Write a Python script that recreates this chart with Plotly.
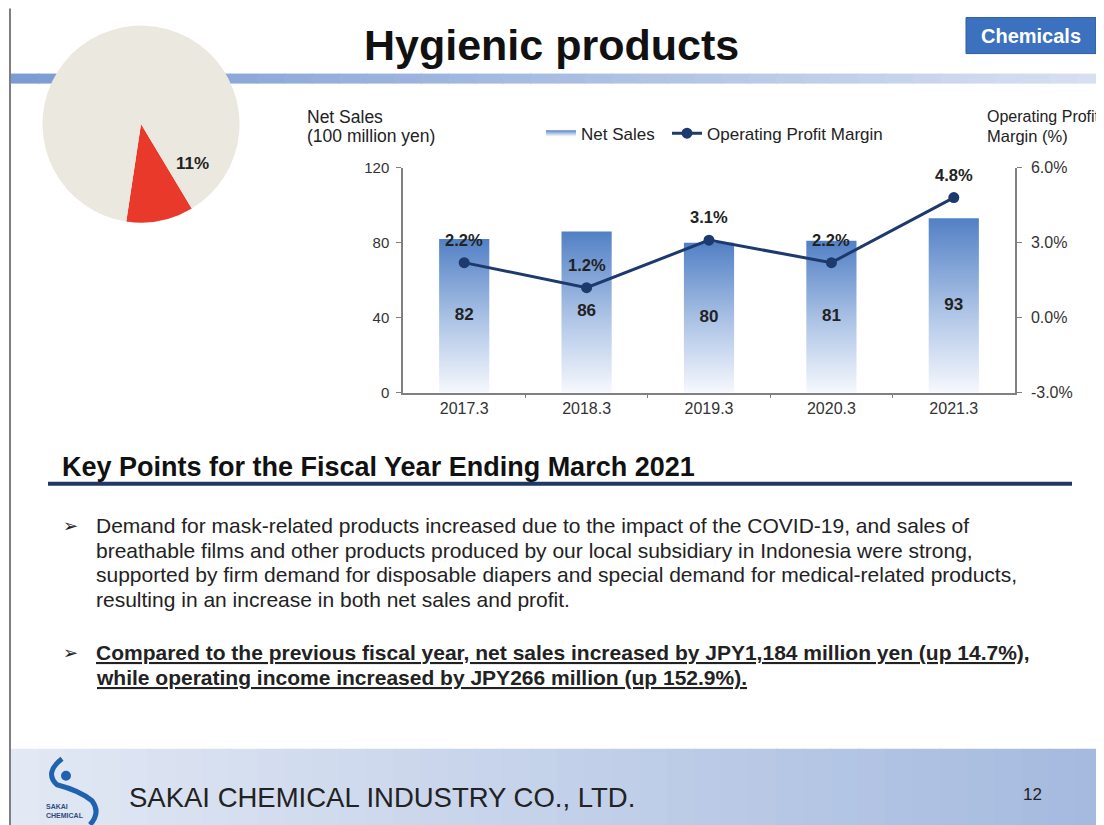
import plotly.graph_objects as go

# ---- data ----
categories = ["2017.3", "2018.3", "2019.3", "2020.3", "2021.3"]
net_sales = [82, 86, 80, 81, 93]
op_margin = [2.2, 1.2, 3.1, 2.2, 4.8]
margin_ticks = [-3.0, 0.0, 3.0, 6.0]
share_labels = ["Hygienic products", "Other"]
share_values = [11, 89]

# measured from earlier renders: figure sits 8px in from the left, ~17px down,
# and the screenshot comes back squeezed vertically by ~0.978
OFFX, OFFY, SY = 8, 16.8, 0.978
W = 1104 - OFFX
H = 827
FONT = "Arial, Liberation Sans, sans-serif"


def px(x):
    return (x - OFFX) / W


def py(y):
    return 1 - (y / SY - OFFY) / H


def blend(c1, c2, t):
    a = [int(c1[i:i + 2], 16) for i in (1, 3, 5)]
    b = [int(c2[i:i + 2], 16) for i in (1, 3, 5)]
    return "#%02x%02x%02x" % tuple(round(a[k] + (b[k] - a[k]) * t) for k in range(3))


def label(x, y, text, size, color="#222222", xanchor="left", family=FONT):
    return dict(x=px(x), y=py(y), xref="paper", yref="paper", text=text, showarrow=False,
                xanchor=xanchor, yanchor="middle", font=dict(size=size, color=color, family=family))


fig = go.Figure()

# pie (share of company sales)
fig.add_trace(go.Pie(
    labels=share_labels, values=share_values, sort=False, direction="clockwise",
    rotation=149, marker=dict(colors=["#e8392a", "#ebe8df"], line=dict(width=0)),
    textinfo="none", hoverinfo="label+percent", showlegend=False,
    domain=dict(x=[px(41), px(241)], y=[py(222), py(25)])
))

# net sales bars drawn as gradient filled polygons on a numeric x axis
half = 0.205
for i, v in enumerate(net_sales):
    fig.add_trace(go.Scatter(
        x=[i - half, i + half, i + half, i - half, i - half],
        y=[0, 0, v, v, 0],
        mode="none", fill="toself",
        fillgradient=dict(type="vertical",
                          colorscale=[[0, "#f6f8fd"], [0.45, "#b0c6e7"], [1, "#5280c5"]]),
        name="Net Sales", legendgroup="ns", showlegend=(i == 0), legend="legend",
        hoverinfo="skip"
    ))

fig.add_trace(go.Scatter(
    x=list(range(len(categories))), y=[v / 2 for v in net_sales],
    mode="text", text=["<b>%d</b>" % v for v in net_sales],
    textfont=dict(size=17, color="#222222", family=FONT),
    showlegend=False, hoverinfo="skip"
))

fig.add_trace(go.Scatter(
    x=list(range(len(categories))), y=op_margin, yaxis="y2",
    mode="lines+markers", name="Operating Profit Margin", legend="legend2",
    line=dict(color="#1c3a6e", width=3),
    marker=dict(color="#1c3a6e", size=11)
))

shapes = []
annotations = []

# margin value labels above the markers
for i, v in enumerate(op_margin):
    annotations.append(dict(x=i, y=v, xref="x", yref="y2", yshift=23, showarrow=False,
                            text="<b>%.1f%%</b>" % v, xanchor="center", yanchor="middle",
                            font=dict(size=16.5, color="#222222", family=FONT)))

# slide frame (left edge)
shapes.append(dict(type="line", xref="paper", yref="paper", x0=px(10), x1=px(10), y0=0, y1=py(8),
                   line=dict(color="#555555", width=1.5), layer="below"))

# top blue band (gradient)
n = 40
for k in range(n):
    x0 = 11 + (1104 - 11) * k / n
    x1 = 11 + (1104 - 11) * (k + 1) / n
    shapes.append(dict(type="rect", xref="paper", yref="paper", x0=px(x0), x1=px(x1) + 0.001,
                       y0=py(83), y1=py(73), fillcolor=blend("#7b9bd2", "#d6e0f1", k / (n - 1)),
                       line=dict(width=0), layer="below"))

# footer band (gradient)
for k in range(n):
    x0 = 11 + (1104 - 11) * k / n
    x1 = 11 + (1104 - 11) * (k + 1) / n
    shapes.append(dict(type="rect", xref="paper", yref="paper", x0=px(x0), x1=px(x1) + 0.001,
                       y0=0, y1=py(748), fillcolor=blend("#e2e8f4", "#a5badf", k / (n - 1)),
                       line=dict(width=0), layer="below"))

# Chemicals badge
shapes.append(dict(type="rect", xref="paper", yref="paper", x0=px(966), x1=px(1096), y0=py(53), y1=py(17),
                   fillcolor="#3b71be", line=dict(color="#2d5da3", width=1)))
annotations.append(label(1031, 35, "<b>Chemicals</b>", 20, "white", "center"))

# title
annotations.append(label(551, 44, "<b>Hygienic products</b>", 43, "#111111", "center"))

# pie label
annotations.append(label(192, 163, "<b>%d%%</b>" % share_values[0], 17, "#222222", "center"))

# axis titles
for txt, x, y, s in [("Net Sales", 305, 116, 17.5), ("(100 million yen)", 305, 135, 17.5),
                     ("Operating Profit", 985, 116, 16), ("Margin (%)", 985, 135, 16.5)]:
    annotations.append(label(x, y, txt, s))

# key points heading
annotations.append(label(60, 466, "<b>Key Points for the Fiscal Year Ending March 2021</b>", 27, "#111111"))
shapes.append(dict(type="rect", xref="paper", yref="paper", x0=px(48), x1=px(1072), y0=py(485), y1=py(481),
                   fillcolor="#1f3864", line=dict(width=0)))

bullet1 = [
    "Demand for mask-related products increased due to the impact of the COVID-19, and sales of",
    "breathable films and other products produced by our local subsidiary in Indonesia were strong,",
    "supported by firm demand for disposable diapers and special demand for medical-related products,",
    "resulting in an increase in both net sales and profit.",
]
bullet2 = [
    "Compared to the previous fiscal year, net sales increased by JPY1,184 million yen (up 14.7%),",
    "while operating income increased by JPY266 million (up 152.9%).",
]
for j, line in enumerate(bullet1):
    annotations.append(label(94, 525 + 24.5 * j, line, 21))
for j, line in enumerate(bullet2):
    annotations.append(label(94, 652 + 24.5 * j, "<b><u>%s</u></b>" % line, 21))
for y in (525, 652):
    annotations.append(label(61, y, "➢", 18, "#222222", "left", "DejaVu Sans"))

# footer text
annotations.append(label(127, 797, "SAKAI CHEMICAL INDUSTRY CO., LTD.", 27.5))
annotations.append(label(1032, 794, "12", 17, "#222222", "center"))

# logo (rough swoosh + dot)
shapes.append(dict(type="circle", xref="paper", yref="paper", x0=px(61), x1=px(71), y0=py(780), y1=py(770),
                   fillcolor="#1f63b0", line=dict(width=0)))
logo_pts = [(62, 758), (44, 772), (57, 784), (80, 790), (92, 800), (101, 812), (90, 824)]
path = "M %f,%f " % (px(logo_pts[0][0]), py(logo_pts[0][1]))
for a, b in ((1, 2), (3, 4), (5, 6)):
    path += "Q %f,%f %f,%f " % (px(logo_pts[a][0]), py(logo_pts[a][1]), px(logo_pts[b][0]), py(logo_pts[b][1]))
shapes.append(dict(type="path", xref="paper", yref="paper", path=path, line=dict(color="#1f63b0", width=5)))
annotations.append(dict(x=px(44), y=py(810), xref="paper", yref="paper", text="<b>SAKAI<br>CHEMICAL</b>",
                        showarrow=False, xanchor="left", yanchor="middle", align="left",
                        font=dict(size=7, color="#2f4a80", family=FONT)))

legend_font = dict(size=17, color="#222222", family=FONT)
fig.update_layout(
    width=W, height=H, autosize=False,
    margin=dict(l=0, r=0, t=0, b=0),
    paper_bgcolor="white", plot_bgcolor="rgba(0,0,0,0)",
    font=dict(family=FONT, color="#222222"),
    xaxis=dict(domain=[px(403), px(1015)], range=[-0.5, 4.5], tickmode="array",
               tickvals=list(range(len(categories))), ticktext=categories, ticks="",
               showline=True, linecolor="#808080", linewidth=1.5, showgrid=False, zeroline=False,
               tickfont=dict(size=16, color="#333333", family=FONT), fixedrange=True,
               minor=dict(tickmode="array", tickvals=[0.5, 1.5, 2.5, 3.5], ticks="outside",
                          ticklen=4, tickcolor="#808080", showgrid=False)),
    yaxis=dict(domain=[py(392), py(167)], range=[0, 120], tickvals=[0, 40, 80, 120],
               ticks="outside", ticklen=5, tickcolor="#808080", showline=True, linecolor="#808080",
               linewidth=1.5, showgrid=False, zeroline=False,
               tickfont=dict(size=15, color="#333333", family=FONT),
               ticklabelstandoff=4, fixedrange=True),
    yaxis2=dict(overlaying="y", side="right", range=[-3, 6], tickmode="array", tickvals=margin_ticks,
                ticktext=["%.1f%%" % t for t in margin_ticks], ticks="outside", ticklen=5,
                tickcolor="#808080", showline=True, linecolor="#808080", linewidth=1.5,
                showgrid=False, zeroline=False, tickfont=dict(size=16, color="#333333", family=FONT),
                ticklabelstandoff=6, fixedrange=True),
    legend=dict(orientation="h", x=px(541), y=py(115), xanchor="left", yanchor="top",
                font=legend_font, bgcolor="rgba(0,0,0,0)"),
    legend2=dict(orientation="h", x=px(667), y=py(115), xanchor="left", yanchor="top",
                 font=legend_font, bgcolor="rgba(0,0,0,0)"),
    shapes=shapes, annotations=annotations,
)

fig.write_html("out.html")
